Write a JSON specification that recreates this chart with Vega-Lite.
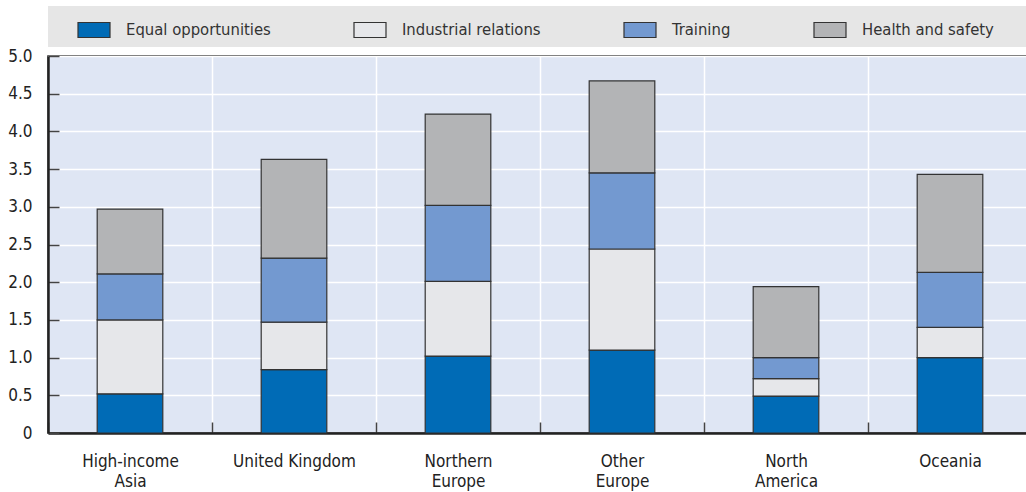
{
  "$schema": "https://vega.github.io/schema/vega-lite/v6.json",
  "width": 984,
  "height": 377,
  "autosize": {"type": "none"},
  "padding": {"left": 48, "top": 56, "right": -6, "bottom": 59},
  "background": "#ffffff",
  "data": {
    "values": [
      {"region": "High-income Asia", "type": "Equal opportunities", "value": 0.52},
      {"region": "High-income Asia", "type": "Industrial relations", "value": 0.98},
      {"region": "High-income Asia", "type": "Training", "value": 0.61},
      {"region": "High-income Asia", "type": "Health and safety", "value": 0.86},
      {"region": "United Kingdom", "type": "Equal opportunities", "value": 0.84},
      {"region": "United Kingdom", "type": "Industrial relations", "value": 0.63},
      {"region": "United Kingdom", "type": "Training", "value": 0.85},
      {"region": "United Kingdom", "type": "Health and safety", "value": 1.31},
      {"region": "Northern Europe", "type": "Equal opportunities", "value": 1.02},
      {"region": "Northern Europe", "type": "Industrial relations", "value": 0.99},
      {"region": "Northern Europe", "type": "Training", "value": 1.01},
      {"region": "Northern Europe", "type": "Health and safety", "value": 1.21},
      {"region": "Other Europe", "type": "Equal opportunities", "value": 1.10},
      {"region": "Other Europe", "type": "Industrial relations", "value": 1.34},
      {"region": "Other Europe", "type": "Training", "value": 1.01},
      {"region": "Other Europe", "type": "Health and safety", "value": 1.22},
      {"region": "North America", "type": "Equal opportunities", "value": 0.49},
      {"region": "North America", "type": "Industrial relations", "value": 0.23},
      {"region": "North America", "type": "Training", "value": 0.28},
      {"region": "North America", "type": "Health and safety", "value": 0.94},
      {"region": "Oceania", "type": "Equal opportunities", "value": 1.00},
      {"region": "Oceania", "type": "Industrial relations", "value": 0.40},
      {"region": "Oceania", "type": "Training", "value": 0.73},
      {"region": "Oceania", "type": "Health and safety", "value": 1.30}
    ]
  },
  "transform": [
    {"calculate": "indexof(['Equal opportunities', 'Industrial relations', 'Training', 'Health and safety'], datum.type)", "as": "stackOrder"}
  ],
  "mark": {"type": "bar", "width": {"band": 0.4}, "stroke": "#333333", "strokeWidth": 1.2},
  "encoding": {
    "x": {
      "field": "region",
      "type": "nominal",
      "sort": null,
      "scale": {"paddingInner": 0, "paddingOuter": 0},
      "axis": {
        "title": null,
        "labelAngle": 0,
        "labelFont": "DejaVu Sans Condensed",
        "labelFontSize": 17,
        "labelColor": "#222222",
        "labelPadding": 31,
        "labelLineHeight": 20,
        "labelExpr": "(datum.label == 'United Kingdom' || datum.label == 'Oceania') ? datum.label : split(datum.label, ' ')",
        "tickBand": "extent",
        "tickSize": -11,
        "tickColor": "#444444",
        "tickWidth": 1.5,
        "grid": true,
        "gridColor": "#ffffff",
        "gridWidth": 1.5,
        "domainColor": "#222222",
        "domainWidth": 2.5
      }
    },
    "y": {
      "field": "value",
      "type": "quantitative",
      "stack": "zero",
      "scale": {"domain": [0, 5], "nice": false},
      "axis": {
        "title": null,
        "values": [0, 0.5, 1, 1.5, 2, 2.5, 3, 3.5, 4, 4.5, 5],
        "labelExpr": "datum.value == 0 ? '0' : format(datum.value, '.1f')",
        "labelFont": "DejaVu Sans Condensed",
        "labelFontSize": 17,
        "labelColor": "#222222",
        "labelPadding": 27,
        "tickSize": -11,
        "tickColor": "#444444",
        "tickWidth": 1.5,
        "grid": true,
        "gridColor": "#ffffff",
        "gridWidth": 1.5,
        "domainColor": "#222222",
        "domainWidth": 2.5
      }
    },
    "color": {
      "field": "type",
      "type": "nominal",
      "sort": ["Equal opportunities", "Industrial relations", "Training", "Health and safety"],
      "scale": {
        "domain": ["Equal opportunities", "Industrial relations", "Training", "Health and safety"],
        "range": ["#006bb6", "#e6e7ea", "#7399d0", "#b3b4b6"]
      },
      "legend": {
        "title": " ",
        "titleOrient": "right",
        "titlePadding": 40,
        "orient": "none",
        "legendX": 0,
        "legendY": -50,
        "direction": "horizontal",
        "columns": 4,
        "gridAlign": "none",
        "columnPadding": 60,
        "padding": 7,
        "fillColor": "#e6e6e6",
        "symbolType": "M-1,-0.47H1V0.47H-1Z",
        "symbolSize": 1024,
        "symbolOffset": 22,
        "symbolStrokeColor": "#333333",
        "symbolStrokeWidth": 1.2,
        "symbolOpacity": 1,
        "labelOffset": 15,
        "labelFont": "DejaVu Sans Condensed",
        "labelFontSize": 16.5,
        "labelColor": "#333333",
        "labelLimit": 300
      }
    },
    "order": {"field": "stackOrder", "type": "quantitative", "sort": "ascending"}
  },
  "config": {
    "view": {"fill": "#dfe6f4", "stroke": "#222222", "strokeWidth": 1.5}
  }
}
